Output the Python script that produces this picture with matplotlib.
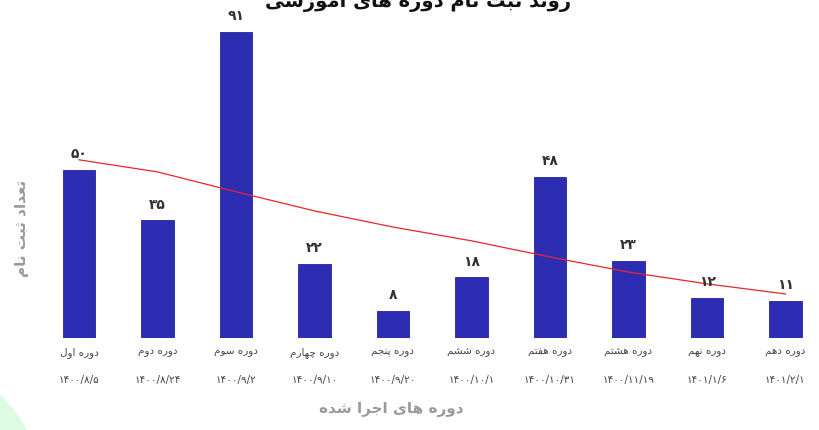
import matplotlib; matplotlib.use('agg')
import matplotlib.pyplot as plt
from matplotlib.patches import Ellipse

# Daten
kurse = ['دوره اول', 'دوره دوم', 'دوره سوم', 'دوره چهارم', 'دوره پنجم',
         'دوره ششم', 'دوره هفتم', 'دوره هشتم', 'دوره نهم', 'دوره دهم']
daten = ['۱۴۰۰/۸/۵', '۱۴۰۰/۸/۲۴', '۱۴۰۰/۹/۲', '۱۴۰۰/۹/۱۰', '۱۴۰۰/۹/۲۰',
         '۱۴۰۰/۱۰/۱', '۱۴۰۰/۱۰/۳۱', '۱۴۰۰/۱۱/۱۹', '۱۴۰۱/۱/۶', '۱۴۰۱/۲/۱']
werte = [50, 35, 91, 22, 8, 18, 48, 23, 12, 11]
werte_fa = ['۵۰', '۳۵', '۹۱', '۲۲', '۸', '۱۸', '۴۸', '۲۳', '۱۲', '۱۱']
trend = [53, 49.4, 43.5, 37.8, 33, 28.9, 24.1, 19.6, 16.1, 13.1]

titel = 'روند ثبت نام دوره های آموزشی'
ylab = 'تعداد ثبت نام'
xlab = 'دوره های اجرا شده'

# matplotlib kann kein Arabisch verbinden -> Praesentationsformen + umdrehen
FORMS = {
    'ا': (0xFE8D, 0xFE8E, None, None), 'آ': (0xFE81, 0xFE82, None, None),
    'ب': (0xFE8F, 0xFE90, 0xFE91, 0xFE92), 'پ': (0xFB56, 0xFB57, 0xFB58, 0xFB59),
    'ت': (0xFE95, 0xFE96, 0xFE97, 0xFE98), 'ث': (0xFE99, 0xFE9A, 0xFE9B, 0xFE9C),
    'ج': (0xFE9D, 0xFE9E, 0xFE9F, 0xFEA0), 'چ': (0xFB7A, 0xFB7B, 0xFB7C, 0xFB7D),
    'د': (0xFEA9, 0xFEAA, None, None), 'ر': (0xFEAD, 0xFEAE, None, None),
    'ز': (0xFEAF, 0xFEB0, None, None), 'و': (0xFEED, 0xFEEE, None, None),
    'س': (0xFEB1, 0xFEB2, 0xFEB3, 0xFEB4), 'ش': (0xFEB5, 0xFEB6, 0xFEB7, 0xFEB8),
    'ع': (0xFEC9, 0xFECA, 0xFECB, 0xFECC), 'ف': (0xFED1, 0xFED2, 0xFED3, 0xFED4),
    'ل': (0xFEDD, 0xFEDE, 0xFEDF, 0xFEE0), 'م': (0xFEE1, 0xFEE2, 0xFEE3, 0xFEE4),
    'ن': (0xFEE5, 0xFEE6, 0xFEE7, 0xFEE8), 'ه': (0xFEE9, 0xFEEA, 0xFEEB, 0xFEEC),
    'ی': (0xFBFC, 0xFBFD, 0xFBFE, 0xFBFF),
}

def fa(s):
    out = []
    for i, c in enumerate(s):
        if c not in FORMS:
            out.append(c)
            continue
        prev = s[i-1] if i > 0 else ''
        nxt = s[i+1] if i + 1 < len(s) else ''
        jp = prev in FORMS and FORMS[prev][2] is not None
        jn = FORMS[c][2] is not None and nxt in FORMS
        iso, fin, ini, med = FORMS[c]
        if jp and jn:
            ch = med
        elif jp:
            ch = fin
        elif jn:
            ch = ini
        else:
            ch = iso
        out.append(chr(ch))
    return ''.join(reversed(out))

plt.rcParams['font.family'] = ['DejaVu Sans']

fig = plt.figure(figsize=(8.2, 4.31), dpi=100)
ax = fig.add_axes([0.0485, 0.2135, 0.9515, 0.78])

# gruener Bogen unten links
fig.patches.append(Ellipse((-100/820, -69/431), 288/820, 288/431,
                           transform=fig.transFigure, color='#dcfbe2', zorder=0))

x = range(len(werte))
ax.bar(x, werte, width=0.41, color='#2d2db3', edgecolor='#23239a', linewidth=0.6)
ax.plot(x, trend, '-', color='#e8262b', linewidth=0.9)

for i, (v, t) in enumerate(zip(werte, werte_fa)):
    ax.annotate(t, (i, v), xytext=(0, 7), textcoords='offset points',
                ha='center', va='bottom', fontsize=10, fontweight='bold', color='#333333')

tr = ax.get_xaxis_transform()
for i, (k, d) in enumerate(zip(kurse, daten)):
    ax.text(i, -0.039, fa(k), transform=tr, ha='center', va='center',
            fontsize=7.5, color='#444444')
    ax.text(i, -0.122, d, transform=tr, ha='center', va='center',
            fontsize=7.5, color='#444444')

ax.text(0.45, -0.211, fa(xlab), transform=ax.transAxes, ha='center', va='center',
        fontsize=11, fontweight='bold', color='#9a9a9a')
fig.text(22/820, 1 - 228/431, fa(ylab), rotation=90, ha='center', va='center',
         fontsize=11, fontweight='bold', color='#9a9a9a')
# Titel ist im Original oben abgeschnitten
fig.text(418/820, 1 - 7/431, fa(titel), ha='center', va='baseline',
         fontsize=14, fontweight='bold', color='#111111')

ax.set_xlim(-0.5, 9.44)
ax.set_ylim(0, 100)
ax.set_axis_off()

plt.savefig('out.png', dpi=100)
